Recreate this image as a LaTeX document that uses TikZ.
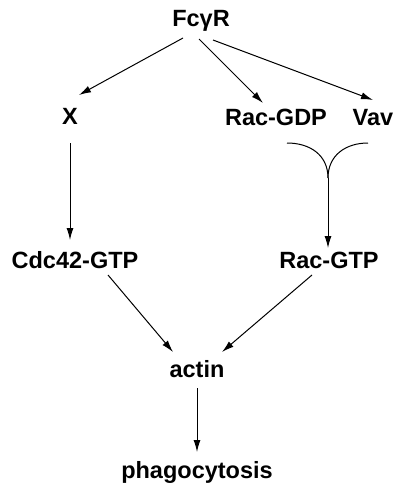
\documentclass[tikz,border=0pt]{standalone}
\usepackage{fontspec}
\setmainfont{Liberation Sans}
\usetikzlibrary{arrows.meta}
\begin{document}
\begin{tikzpicture}[x=1pt,y=-1pt,
  lbl/.style={font=\bfseries\fontsize{23.5}{25}\selectfont, anchor=base, inner sep=0pt},
  arr/.style={line width=1pt, -{Latex[length=12pt,width=7pt]}},
  ln/.style={line width=1pt}]
\useasboundingbox (0,0) rectangle (396,487);
\node[lbl] (fc) at (201,27) {FcγR};
\node[lbl] (x) at (70,124) {X};
\node[lbl] (rgdp) at (276,125) {Rac-GDP};
\node[lbl] (vav) at (373,125) {Vav};
\node[lbl] (cdc) at (75,268) {Cdc42-GTP};
\node[lbl] (rgtp) at (329,268) {Rac-GTP};
\node[lbl] (actin) at (197,377) {actin};
\node[lbl] (phago) at (197,478) {phagocytosis};
% connector end points
\coordinate (fc-x) at (183,38);
\coordinate (x-in) at (79,95);
\coordinate (fc-r) at (199,39);
\coordinate (r-in) at (263,103);
\coordinate (fc-v) at (213,40);
\coordinate (v-in) at (373,100);
\coordinate (x-out) at (70,143);
\coordinate (cdc-in) at (70,240);
\coordinate (mL) at (287,143);
\coordinate (mR) at (368,143);
\coordinate (mJ) at (328,178);
\coordinate (rgtp-in) at (328,248);
\coordinate (cdc-out) at (108,275);
\coordinate (rgtp-out) at (312,275);
\coordinate (actin-inL) at (173,352);
\coordinate (actin-inR) at (222,352);
\coordinate (actin-out) at (197,388);
\coordinate (phago-in) at (197,452);
\draw[arr] (fc-x) -- (x-in);
\draw[arr] (fc-r) -- (r-in);
\draw[arr] (fc-v) -- (v-in);
\draw[arr] (x-out) -- (cdc-in);
\draw[ln] (mL) .. controls (310,143) and (328,155) .. (mJ);
\draw[ln] (mR) .. controls (346,143) and (328,155) .. (mJ);
\draw[arr] (mJ) -- (rgtp-in);
\draw[arr] (cdc-out) -- (actin-inL);
\draw[arr] (rgtp-out) -- (actin-inR);
\draw[arr] (actin-out) -- (phago-in);
\end{tikzpicture}
\end{document}
